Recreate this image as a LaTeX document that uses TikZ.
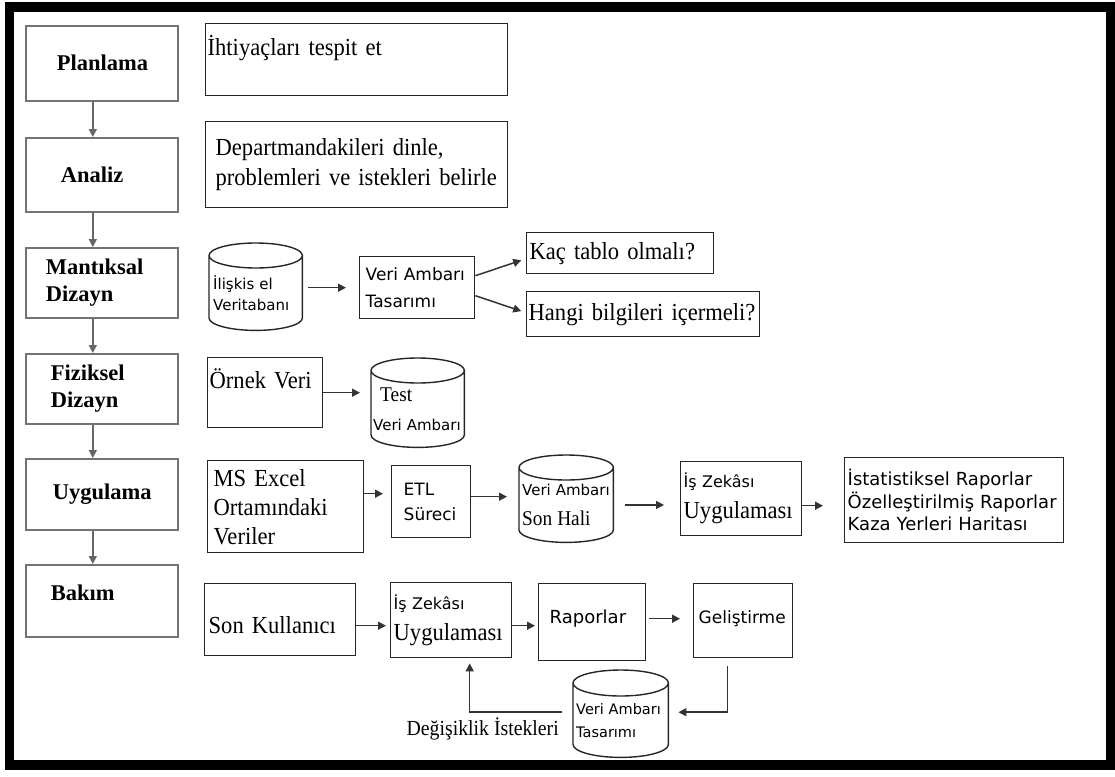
\documentclass[tikz,border=0pt]{standalone}
\usepackage{fontspec}
\setmainfont[FakeStretch=0.92]{Liberation Serif}
\newfontfamily\phasef{Liberation Serif}
\newfontfamily\sansf{DejaVu Sans}
\usetikzlibrary{arrows.meta,calc}

\newcommand\phasefont{\phasef\bfseries\fontsize{22.5}{27}\selectfont}
\newcommand\txtL{\fontsize{24.5}{30}\selectfont}
\newcommand\txtM{\fontsize{21}{25}\selectfont}
\newcommand\sansL{\sansf\fontsize{18}{22.5}\selectfont}
\newcommand\sansM{\sansf\fontsize{17}{25}\selectfont}
\newcommand\sansS{\sansf\fontsize{15}{21}\selectfont}

% cylinder outline around a node whose top edge is the axis of the upper ellipse
\newcommand\dbdraw[2][12.5]{%
  \draw[dbline] let \p1=(#2.north west), \p2=(#2.south east), \n1={(\x2-\x1)/2} in
    (\x1,\y1) -- (\x1,\y2+#1pt)
    arc[start angle=180, end angle=360, x radius={\n1*1pt}, y radius=#1pt]
    -- (\x2,\y1)
    (\x1+\n1*1pt,\y1) ellipse[x radius={\n1*1pt}, y radius=#1pt];}

\begin{document}
\begin{tikzpicture}[x=1pt,y=-1pt,
  every node/.style={inner sep=0pt, anchor=north west},
  phase/.style={draw=black!55, line width=1.6pt, minimum width=152pt, text width=124pt, align=left, font=\phasefont},
  box/.style={draw=black!85, line width=1.4pt, align=left},
  dbnode/.style={align=left},
  dbline/.style={draw=black!85, line width=1.4pt},
  arr/.style={draw=black!80, line width=1.5pt, -{Triangle[length=8pt,width=8pt]}},
  parr/.style={draw=black!60, line width=1.6pt, -{Triangle[length=8pt,width=8pt]}},
]
\useasboundingbox (0,0) rectangle (1115,776);
\fill[white] (0,0) rectangle (1115,776);
\draw[line width=9.5pt] (9.5,7) rectangle (1110.5,765);

% phases
\node[phase, minimum height=75pt] (plan) at (25,25) {\hspace*{17pt}Planlama};
\node[phase, minimum height=74pt] (anal) at (25,137) {\hspace*{21pt}Analiz};
\node[phase, minimum height=70pt] (mant) at (25,247) {\hspace*{6pt}Mantıksal\\\hspace*{6pt}Dizayn};
\node[phase, minimum height=70pt] (fiz) at (25,353) {\hspace*{11pt}Fiziksel\\\hspace*{11pt}Dizayn};
\node[phase, minimum height=71pt] (uyg) at (25,458) {\hspace*{13pt}Uygulama};
\node[phase, text height=36pt, text depth=36pt] (bak) at (25,564) {\hspace*{11pt}Bakım};
\draw[parr] ([xshift=-9pt]plan.south) -- ([xshift=-9pt]anal.north);
\draw[parr] ([xshift=-9pt]anal.south) -- ([xshift=-9pt]mant.north);
\draw[parr] ([xshift=-9pt]mant.south) -- ([xshift=-9pt]fiz.north);
\draw[parr] ([xshift=-9pt]fiz.south) -- ([xshift=-9pt]uyg.north);
\draw[parr] ([xshift=-9pt]uyg.south) -- ([xshift=-9pt]bak.north);

% planning and analysis
\node[box, minimum width=302pt, text width=298pt, text height=32pt, text depth=40pt, font=\txtL] (need) at (205,23) {İhtiyaçları tespit et};
\node[box, minimum width=302pt, minimum height=86pt, text width=282pt, font=\txtL] (dept) at (205,121) {Departmandakileri dinle,\\problemleri ve istekleri belirle};

% logical design
\node[dbnode, minimum width=93pt, minimum height=74.5pt, text width=85pt, font=\sansS] (ilis) at (209,255.5) {İlişkis el\\Veritabanı};
\dbdraw{ilis}
\node[box, minimum width=115pt, minimum height=62pt, text width=103pt, font=\fontsize{17}{27}\selectfont] (vat) at (359,256) {{\sansf Veri Ambarı}\\{\sansf Tasarımı}};
\node[box, minimum width=187pt, minimum height=41pt, text width=181pt, font=\txtL] (kac) at (526,232) {Kaç tablo olmalı?};
\node[box, minimum width=233pt, minimum height=45pt, text width=229pt, font=\txtL] (hangi) at (526,291) {Hangi bilgileri içermeli?};
\draw[arr, shorten <=6pt, shorten >=13pt] (ilis.east |- vat.west) -- (vat.west);
\draw[arr, shorten >=5pt] ([yshift=12pt]vat.east) -- ($(kac.west)+(0,5.5)$);
\draw[arr, shorten >=5pt] ([yshift=-8pt]vat.east) -- ($(hangi.west)+(0,-1.5)$);

% physical design
\node[box, minimum width=115pt, text width=111pt, text height=31pt, text depth=39pt, font=\txtL] (ornek) at (207,357) {Örnek Veri};
\node[dbnode, minimum width=93pt, minimum height=76.5pt, text width=89pt, font=\fontsize{15}{29}\selectfont] (test) at (371,370.5) {\hspace*{7pt}{\txtM Test}\\{\sansS Veri Ambarı}};
\dbdraw{test}
\draw[arr, shorten >=11pt] (ornek.east) -- (ornek.east -| test.west);

% implementation
\node[box, minimum width=156pt, minimum height=92pt, text width=144pt, font=\fontsize{24.5}{29}\selectfont] (excel) at (207,460) {MS Excel\\Ortamındaki\\Veriler};
\node[box, minimum width=79pt, minimum height=72pt, text width=55pt, font=\sansM] (etl) at (391,465) {ETL\\Süreci};
\node[dbnode, minimum width=94pt, minimum height=74.5pt, text width=88pt, font=\fontsize{15}{30}\selectfont] (son) at (519,467.5) {{\sansS Veri Ambarı}\\{\txtM Son Hali}};
\dbdraw{son}
\node[box, minimum width=121pt, minimum height=74pt, text width=115pt, font=\fontsize{16}{31}\selectfont] (isz) at (680,461) {{\sansf\fontsize{16}{20}\selectfont İş Zekâsı}\\{\txtL Uygulaması}};
\node[box, minimum width=219pt, minimum height=85pt, text width=213pt, font=\sansL] (ist) at (844,457) {İstatistiksel Raporlar\\Özelleştirilmiş Raporlar\\Kaza Yerleri Haritası};
\draw[arr, shorten >=8pt] ([yshift=13pt]excel.east) -- ([yshift=13pt]excel.east -| etl.west);
\draw[arr, shorten >=12pt] ([yshift=5pt]etl.east) -- ([yshift=5pt]etl.east -| son.west);
\draw[arr, shorten <=12pt, shorten >=16pt] (son.east) -- (son.east -| isz.west);
\draw[arr, shorten >=21pt] ([yshift=-7pt]isz.east) -- ([yshift=-7pt]isz.east -| ist.west);

% maintenance
\node[box, minimum width=151pt, text width=143pt, text height=50pt, text depth=22pt, font=\txtL] (user) at (204,583) {Son Kullanıcı};
\node[box, minimum width=121pt, minimum height=75pt, text width=115pt, font=\fontsize{16}{31}\selectfont] (isb) at (390,582) {{\sansf\fontsize{16}{20}\selectfont İş Zekâsı}\\{\txtL Uygulaması}};
\node[box, minimum width=107pt, text width=85pt, text height=40pt, text depth=37pt, font=\sansL] (rap) at (538,583) {Raporlar};
\node[box, minimum width=99pt, text width=89pt, text height=40pt, text depth=34pt, font=\sansf\fontsize{17}{21}\selectfont] (gel) at (693,583) {Geliştirme};
\node[dbnode, minimum width=95pt, minimum height=74pt, text width=89pt, font=\sansf\fontsize{14.5}{23}\selectfont] (dbt) at (573,683) {Veri Ambarı\\Tasarımı};
\dbdraw[13]{dbt}
\node[anchor=east, font=\fontsize{21.5}{25}\selectfont] (req) at ($(dbt.west)+(-14,9)$) {Değişiklik İstekleri};
\draw[arr, shorten >=4pt] ([yshift=-6pt]user.east) -- ([yshift=-6pt]user.east -| isb.west);
\draw[arr, shorten >=3pt] ([yshift=-5.5pt]isb.east) -- ([yshift=-5.5pt]isb.east -| rap.west);
\draw[arr, shorten <=3pt, shorten >=13pt] ([yshift=3.5pt]rap.east) -- ([yshift=3.5pt]rap.east -| gel.west);
\draw[arr, shorten >=10pt] ($(gel.south)+(-15.5,8)$) |- ([yshift=8pt]dbt.east);
\draw[arr, shorten <=11pt, shorten >=5pt] ([yshift=8pt]dbt.west) -| ($(isb.south)+(18.5,0)$);
\end{tikzpicture}
\end{document}
